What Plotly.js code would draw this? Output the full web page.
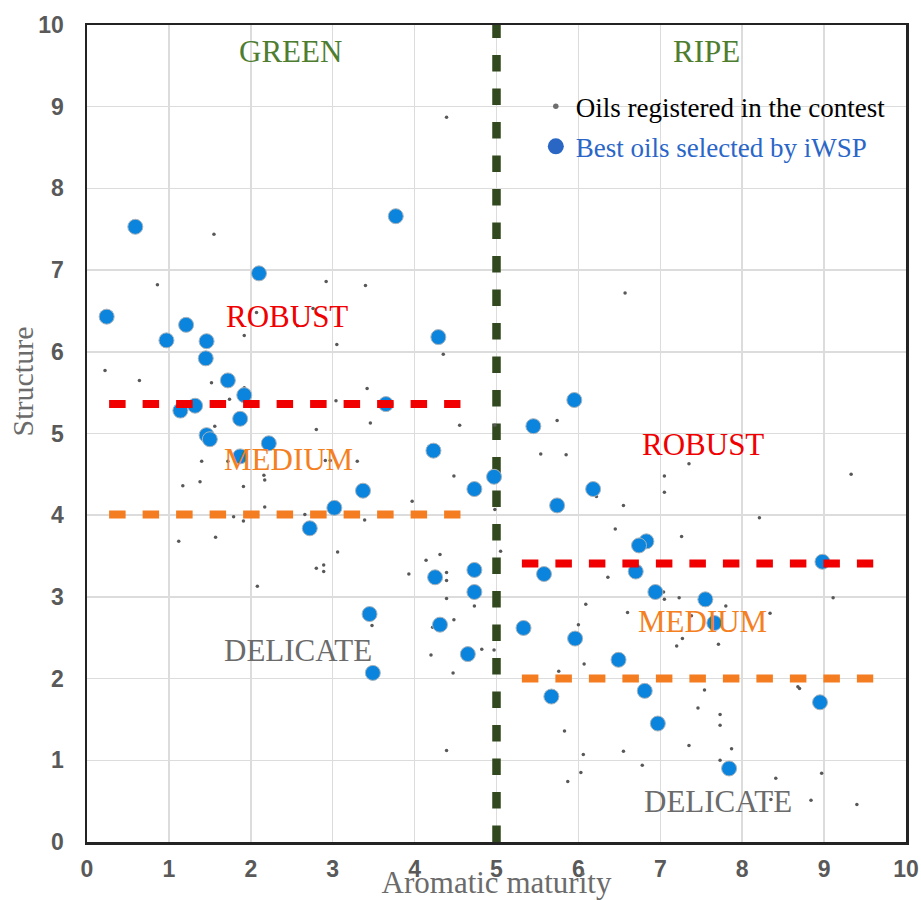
<!DOCTYPE html>
<html>
<head>
<meta charset="utf-8">
<script src="https://cdn.plot.ly/plotly-3.0.1.min.js"></script>
<style>html,body{margin:0;padding:0;background:#fff;}#chart{width:921px;height:900px;}</style>
</head>
<body>
<div id="chart"></div>
<script>
// Oils registered in the contest (grey dots)
const registeredX = [4.39,1.55,0.86,2.92,3.40,2.07,2.76,2.57,1.92,3.05,4.35,0.22,0.64,1.52,1.92,3.42,1.74,3.04,3.46,4.55,1.56,2.80,4.98,
  1.40,1.72,2.91,2.97,3.30,2.16,2.17,1.17,1.38,1.91,4.48,3.97,2.17,1.79,1.91,2.66,3.39,4.98,1.12,1.57,3.06,2.80,2.89,2.89,4.14,4.31,3.93,
  4.39,4.39,4.39,4.73,5.05,2.08,3.48,4.48,4.22,4.20,4.82,4.97,4.47,4.39,
  6.57,5.74,5.54,5.85,7.35,7.05,7.05,9.33,6.22,6.55,8.21,6.45,7.26,6.36,7.04,7.05,7.23,9.11,7.80,6.09,6.60,7.38,8.34,6.00,7.27,7.20,7.71,
  6.07,5.76,8.70,8.68,7.54,7.46,7.73,7.73,5.83,7.35,7.87,6.55,6.06,6.78,7.73,6.03,8.97,5.87,8.41,8.35,8.84,9.40];
const registeredY = [8.87,7.44,6.82,6.86,6.81,6.48,6.53,6.32,6.20,6.09,5.97,5.77,5.65,5.62,5.56,5.55,5.42,5.40,5.13,5.10,5.09,5.05,5.10,
  4.66,4.66,4.67,4.67,4.66,4.49,4.43,4.36,4.41,4.35,4.48,4.17,4.10,3.98,3.93,4.01,3.94,4.07,3.68,3.73,3.55,3.35,3.39,3.31,3.45,3.52,3.28,
  3.30,3.20,2.98,2.89,3.56,3.13,2.65,2.72,2.63,2.29,2.36,2.35,2.07,1.12,
  6.72,5.16,4.75,4.74,4.63,4.48,4.28,4.50,4.23,4.12,3.97,3.83,3.74,3.24,3.06,2.97,2.99,2.99,2.89,2.91,2.81,2.77,2.80,2.66,2.49,2.40,2.42,
  2.18,2.09,1.88,1.90,1.86,1.64,1.56,1.43,1.36,1.18,1.14,1.11,1.07,0.94,1.00,0.85,0.84,0.74,0.78,0.52,0.51,0.46];

// Best oils selected by iWSP (blue dots)
const bestX = [0.59,3.77,2.10,0.24,1.21,0.97,1.46,4.29,1.45,1.72,1.92,1.32,1.14,3.65,1.87,1.46,1.50,2.22,1.87,4.23,4.73,4.97,3.37,3.02,2.72,
  4.25,4.73,4.73,3.45,4.31,4.65,3.49,
  5.95,5.45,6.18,5.74,6.83,6.74,8.98,5.58,6.70,6.94,7.55,7.66,5.33,5.96,6.49,6.81,5.67,8.95,6.97,7.84];
const bestY = [7.53,7.66,6.96,6.43,6.33,6.14,6.13,6.18,5.92,5.65,5.47,5.34,5.28,5.36,5.18,4.98,4.93,4.88,4.72,4.79,4.32,4.47,4.30,4.09,3.84,
  3.24,3.33,3.06,2.79,2.66,2.30,2.07,
  5.41,5.09,4.32,4.12,3.68,3.63,3.43,3.28,3.31,3.06,2.97,2.68,2.62,2.49,2.23,1.85,1.78,1.71,1.45,0.90];

// Zone boundaries
const ripeBoundary = 5;
const greenSpan = [0.27, 4.56];
const ripeSpan = [5.31, 9.60];
const robustLevels = [5.36, 3.41];   // [green, ripe]
const mediumLevels = [4.01, 2.00];   // [green, ripe]

const tickVals = [0,1,2,3,4,5,6,7,8,9,10];

const serif = 'Liberation Serif, Times New Roman, serif';
const sans = 'Liberation Sans, Arial, sans-serif';
const dashPat = '16.5px,17px';

const traces = [
  {x:[ripeBoundary, ripeBoundary], y:[0,10], mode:'lines', line:{color:'#32481e', width:8.5, dash:dashPat}, showlegend:false, hoverinfo:'skip'},
  {x:registeredX, y:registeredY, mode:'markers', marker:{color:'#585858', size:3.5}, showlegend:false},
  {x:bestX, y:bestY, mode:'markers', marker:{color:'#0a84dc', size:15, line:{color:'#a9b4bd', width:1}}, showlegend:false},
  {x:greenSpan, y:[robustLevels[0], robustLevels[0]], mode:'lines', line:{color:'#f00000', width:8, dash:dashPat}, showlegend:false, hoverinfo:'skip'},
  {x:greenSpan, y:[mediumLevels[0], mediumLevels[0]], mode:'lines', line:{color:'#f47d21', width:8, dash:dashPat}, showlegend:false, hoverinfo:'skip'},
  {x:ripeSpan, y:[robustLevels[1], robustLevels[1]], mode:'lines', line:{color:'#f00000', width:8, dash:dashPat}, showlegend:false, hoverinfo:'skip'},
  {x:ripeSpan, y:[mediumLevels[1], mediumLevels[1]], mode:'lines', line:{color:'#f47d21', width:8, dash:dashPat}, showlegend:false, hoverinfo:'skip'},
  // legend entries
  {x:[null], y:[null], mode:'markers', name:'Oils registered in the contest', marker:{color:'#6e6e6e', size:5.5}, legend:'legend'},
  {x:[null], y:[null], mode:'markers', name:'Best oils selected by iWSP', marker:{color:'#2a66c4', size:16}, legend:'legend2'}
];

function ann(text, x, y, color){
  return {text:text, x:x, y:y, xref:'x', yref:'y', showarrow:false, xanchor:'center', yanchor:'middle',
    font:{family:serif, size:31, color:color}};
}

const layout = {
  width:921, height:900,
  margin:{l:87, r:15, t:25, b:57.5},
  font:{family:serif},
  paper_bgcolor:'#ffffff', plot_bgcolor:'#ffffff',
  xaxis:{range:[0,10], tickvals:tickVals, showgrid:true, gridcolor:'#dcdcdc', gridwidth:1.5, zeroline:false,
    showline:true, linecolor:'#232323', linewidth:2.5, mirror:true, ticks:'', ticklabelstandoff:5,
    tickfont:{family:sans, size:23, color:'#595959', weight:'bold'},
    title:{text:'Aromatic maturity', font:{family:serif, size:31, color:'#6b6b6b'}, standoff:0}},
  yaxis:{range:[0,10], tickvals:tickVals, showgrid:true, gridcolor:'#dcdcdc', gridwidth:1.5, zeroline:false,
    showline:true, linecolor:'#232323', linewidth:2.5, mirror:true, ticks:'', ticklabelstandoff:16,
    tickfont:{family:sans, size:23, color:'#595959', weight:'bold'}},
  legend:{x:0.548, y:0.9, xanchor:'left', yanchor:'middle', bgcolor:'rgba(0,0,0,0)', borderwidth:0,
    font:{family:serif, size:27, color:'#000000'}},
  legend2:{x:0.548, y:0.851, xanchor:'left', yanchor:'middle', bgcolor:'rgba(0,0,0,0)', borderwidth:0,
    font:{family:serif, size:27, color:'#2a66c8'}},
  annotations:[
    {text:'Structure', xref:'paper', yref:'paper', x:-0.079, y:0.564, xanchor:'center', yanchor:'middle',
      textangle:-90, showarrow:false, font:{family:serif, size:30, color:'#6b6b6b'}},
    ann('GREEN', 2.49, 9.68, '#4e7d30'),
    ann('RIPE', 7.57, 9.68, '#4e7d30'),
    ann('ROBUST', 2.44, 6.43, '#f00000'),
    ann('MEDIUM', 2.46, 4.68, '#f4801f'),
    ann('DELICATE', 2.58, 2.35, '#6b6b6b'),
    ann('ROBUST', 7.52, 4.86, '#f00000'),
    ann('MEDIUM', 7.52, 2.70, '#f4801f'),
    ann('DELICATE', 7.70, 0.50, '#6b6b6b')
  ]
};

Plotly.newPlot('chart', traces, layout, {displayModeBar:false, staticPlot:true});
</script>
</body>
</html>
